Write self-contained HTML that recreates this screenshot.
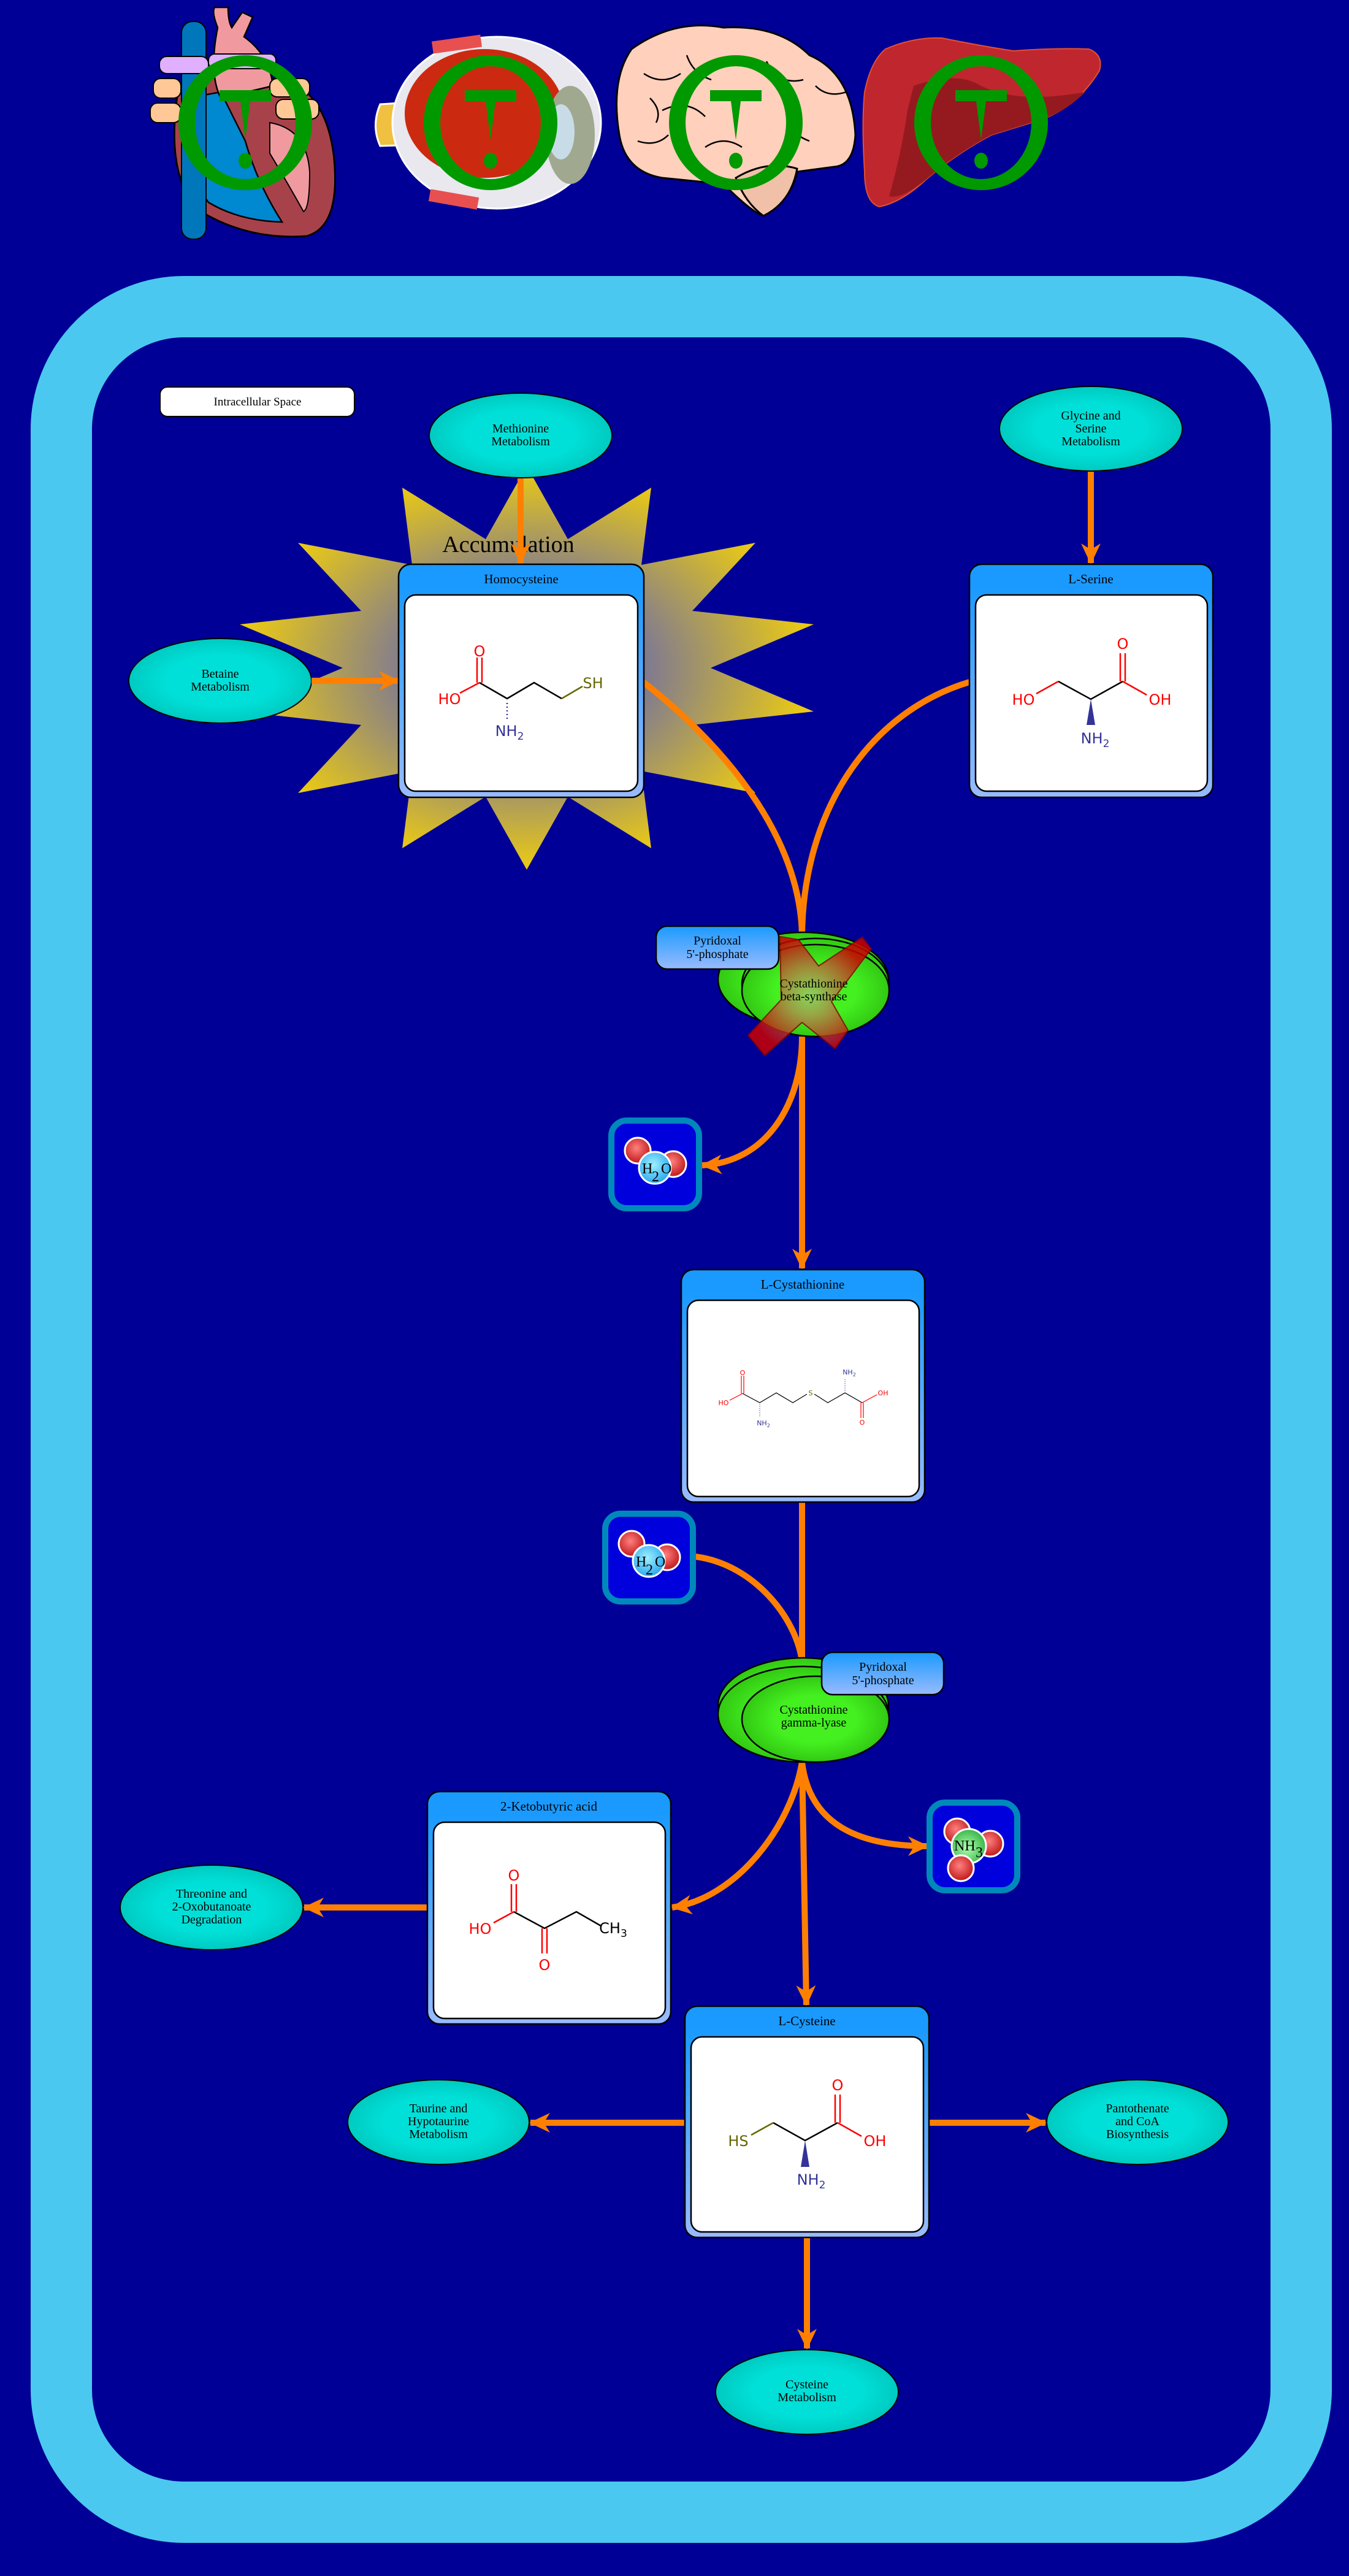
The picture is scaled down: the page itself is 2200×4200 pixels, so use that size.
<!DOCTYPE html>
<html><head><meta charset="utf-8"><style>html,body{margin:0;padding:0;background:#000096;}svg{display:block}</style></head>
<body>
<svg width="2200" height="4200" viewBox="0 0 2200 4200" xmlns="http://www.w3.org/2000/svg" font-family="'Liberation Serif', serif">
<defs>
<radialGradient id="star" cx="0.5" cy="0.5" r="0.5">
<stop offset="0.3" stop-color="#6a6aaa"/><stop offset="1" stop-color="#eccb12"/></radialGradient>
<radialGradient id="cyan" cx="0.5" cy="0.5" r="0.6"><stop offset="0.5" stop-color="#00e0d8"/><stop offset="1" stop-color="#00bfb5"/></radialGradient>
<radialGradient id="green" cx="0.5" cy="0.5" r="0.55"><stop offset="0.5" stop-color="#44f020"/><stop offset="1" stop-color="#2ec010"/></radialGradient>
<linearGradient id="box" x1="0" y1="0" x2="0" y2="1"><stop offset="0.1" stop-color="#1a9aff"/><stop offset="1" stop-color="#99bbff"/></linearGradient>
<linearGradient id="pyr" x1="0" y1="0" x2="0" y2="1"><stop offset="0" stop-color="#1a9aff"/><stop offset="1" stop-color="#99bbff"/></linearGradient>
<radialGradient id="xg" cx="0.5" cy="0.5" r="0.5"><stop offset="0" stop-color="#b8c080" stop-opacity="0.7"/><stop offset="1" stop-color="#cc0000"/></radialGradient>
<radialGradient id="redb" cx="0.45" cy="0.4" r="0.6"><stop offset="0" stop-color="#ff8080"/><stop offset="1" stop-color="#c01818"/></radialGradient>
<radialGradient id="blub" cx="0.45" cy="0.4" r="0.6"><stop offset="0" stop-color="#a0f0ff"/><stop offset="1" stop-color="#2aa8ee"/></radialGradient>
<radialGradient id="grnb" cx="0.45" cy="0.55" r="0.6"><stop offset="0" stop-color="#b0ffb0"/><stop offset="1" stop-color="#30b040"/></radialGradient>
<marker id="ah" markerUnits="userSpaceOnUse" markerWidth="40" markerHeight="40" viewBox="0 0 40 40" refX="34" refY="20" orient="auto">
<path d="M2,4 L36,20 L2,36 L12,20 z" fill="#ff8000"/></marker>
<g id="ring">
<path d="M-109,0 A109,110 0 1 0 109,0 A109,110 0 1 0 -109,0 Z M-82,0 A82,92 0 1 1 82,0 A82,92 0 1 1 -82,0 Z" fill="#009900" fill-rule="evenodd"/>
<path d="M-42,-53 L42,-53 L42,-35 L8,-35 L0,28 L-8,-35 L-42,-35 Z" fill="#009900"/>
<ellipse cx="0" cy="62" rx="11" ry="13" fill="#009900"/>
</g>
<g id="h2o">
<circle cx="50" cy="58" r="21" fill="url(#redb)" stroke="#fff" stroke-width="3"/>
<circle cx="108" cy="80" r="21" fill="url(#redb)" stroke="#fff" stroke-width="3"/>
<circle cx="78" cy="86" r="26" fill="url(#blub)" stroke="#fff" stroke-width="3"/>
<text x="57" y="95" font-size="24">H</text><text x="73" y="108" font-size="24">2</text><text x="88" y="95" font-size="24">O</text>
</g>
</defs>

<rect width="2200" height="4200" fill="#000096"/>

<!-- organs -->
<g>
<!-- heart -->
<path d="M290,150 Q270,280 320,340 Q400,392 500,385 Q555,370 545,260 Q535,160 470,130 L330,120 Z" fill="#a8424a" stroke="#000" stroke-width="3"/>
<path d="M305,160 Q300,280 340,330 Q390,360 460,362 Q420,300 400,230 L360,150 Z" fill="#0088d0" stroke="#000" stroke-width="2.5"/>
<path d="M440,200 Q500,210 505,280 Q505,340 495,345 Q470,300 440,250 Z" fill="#f09aa0" stroke="#000" stroke-width="2"/>
<path d="M355,45 Q345,20 350,12 L372,12 Q372,35 378,45 L395,20 L412,28 L398,60 Q440,90 445,140 L360,160 Q340,120 355,45 Z" fill="#f09aa0" stroke="#000" stroke-width="2.5"/>
<rect x="296" y="35" width="40" height="355" rx="18" fill="#0077bb" stroke="#000" stroke-width="2"/>
<rect x="260" y="92" width="80" height="28" rx="12" fill="#e0b0ff" stroke="#000" stroke-width="2"/>
<rect x="340" y="88" width="110" height="24" rx="10" fill="#e0b0ff" stroke="#000" stroke-width="2"/>
<rect x="250" y="128" width="45" height="32" rx="12" fill="#ffc896" stroke="#000" stroke-width="2"/>
<rect x="245" y="168" width="50" height="32" rx="12" fill="#ffc896" stroke="#000" stroke-width="2"/>
<rect x="440" y="128" width="65" height="30" rx="12" fill="#ffc896" stroke="#000" stroke-width="2"/>
<rect x="450" y="162" width="70" height="32" rx="12" fill="#ffc896" stroke="#000" stroke-width="2"/>
<!-- eye -->
<path d="M620,170 L700,165 L705,235 L620,238 Q605,205 620,170 Z" fill="#f0c040" stroke="#fff" stroke-width="3"/>
<ellipse cx="810" cy="200" rx="170" ry="140" fill="#e8e8ee" stroke="#fff" stroke-width="3"/>
<ellipse cx="790" cy="185" rx="130" ry="105" fill="#cc2a10"/>
<ellipse cx="930" cy="220" rx="40" ry="80" fill="#a0a890"/>
<ellipse cx="915" cy="215" rx="22" ry="45" fill="#c8dce8"/>
<rect x="705" y="62" width="80" height="20" fill="#e85050" transform="rotate(-8 745 72)"/>
<rect x="700" y="315" width="80" height="20" fill="#e85050" transform="rotate(10 740 325)"/>
<!-- brain -->
<path d="M1030,80 Q1100,30 1180,45 Q1270,40 1320,90 Q1390,120 1395,220 Q1392,270 1360,272 L1300,280 Q1290,330 1240,350 Q1220,340 1180,300 L1080,290 Q1020,280 1010,220 Q995,130 1030,80 Z" fill="#ffd0bc" stroke="#000" stroke-width="3"/>
<path d="M1200,290 Q1250,260 1300,275 Q1290,330 1245,352 Q1215,330 1200,290 Z" fill="#f0c0a8" stroke="#000" stroke-width="3"/>
<path d="M1050,120 q30,20 60,0 M1080,180 q40,-20 70,10 M1250,100 q20,40 60,30 M1300,180 q-30,30 20,50 M1150,240 q30,-20 60,0 M1040,230 q30,10 50,-10 M1120,90 q10,30 40,40 M1330,140 q20,20 50,10 M1060,160 q20,20 10,40" stroke="#000" stroke-width="2.5" fill="none"/>
<!-- liver -->
<path d="M1444,80 Q1490,60 1536,62 Q1600,75 1653,83 Q1720,78 1776,80 Q1800,90 1793,115 Q1760,170 1704,193 Q1650,210 1617,220 Q1560,250 1510,293 Q1470,330 1434,337 Q1410,330 1410,280 Q1405,200 1410,150 Q1420,100 1444,80 Z" fill="#c0262e" stroke="#e05030" stroke-width="2"/>
<path d="M1490,140 Q1560,115 1600,140 Q1660,170 1770,150 Q1740,180 1704,193 Q1650,210 1617,220 Q1560,250 1510,293 Q1470,325 1450,320 Q1470,250 1480,180 Z" fill="#951a20"/>
</g>
<use href="#ring" x="400" y="200"/>
<use href="#ring" x="800" y="200"/>
<use href="#ring" x="1200" y="200"/>
<use href="#ring" x="1600" y="200"/>

<!-- cell -->
<rect x="100" y="500" width="2022" height="3596" rx="200" ry="200" fill="none" stroke="#4bc8ef" stroke-width="100"/>

<!-- intracellular label -->
<rect x="261" y="631" width="317" height="48" rx="12" fill="#fff" stroke="#000" stroke-width="2"/>
<text x="420" y="661" font-size="19" text-anchor="middle">Intracellular Space</text>

<!-- starburst -->
<polygon points="859,760 926,879 1062,795 1046,921 1232,885 1129,996 1327,1018 1159,1089 1327,1160 1129,1182 1232,1293 1046,1257 1062,1383 926,1299 859,1418 792,1299 656,1383 672,1257 486,1293 589,1182 391,1160 559,1089 391,1018 589,996 486,885 672,921 656,795 792,879" fill="url(#star)"/>
<text x="829" y="900" font-size="38" text-anchor="middle">Accumulation</text>

<!-- ellipses -->
<g stroke="#000" stroke-width="2" fill="url(#cyan)">
<ellipse cx="849" cy="710" rx="149" ry="69"/>
<ellipse cx="1779" cy="699" rx="149" ry="69"/>
<ellipse cx="359" cy="1110" rx="149" ry="69"/>
<ellipse cx="345" cy="3110" rx="149" ry="69"/>
<ellipse cx="715" cy="3460" rx="148" ry="69"/>
<ellipse cx="1855" cy="3460" rx="148" ry="69"/>
<ellipse cx="1316" cy="3900" rx="149" ry="69"/>
</g>
<g font-size="20" text-anchor="middle">
<text x="849" y="705">Methionine</text><text x="849" y="726">Metabolism</text>
<text x="1779" y="684">Glycine and</text><text x="1779" y="705">Serine</text><text x="1779" y="726">Metabolism</text>
<text x="359" y="1105">Betaine</text><text x="359" y="1126">Metabolism</text>
<text x="345" y="3094">Threonine and</text><text x="345" y="3115">2-Oxobutanoate</text><text x="345" y="3136">Degradation</text>
<text x="715" y="3444">Taurine and</text><text x="715" y="3465">Hypotaurine</text><text x="715" y="3486">Metabolism</text>
<text x="1855" y="3444">Pantothenate</text><text x="1855" y="3465">and CoA</text><text x="1855" y="3486">Biosynthesis</text>
<text x="1316" y="3894">Cysteine</text><text x="1316" y="3915">Metabolism</text>
</g>

<!-- connectors -->
<g stroke="#ff8000" stroke-width="10" fill="none">
<path d="M849,780 L849,918" marker-end="url(#ah)"/>
<path d="M1779,769 L1779,918" marker-end="url(#ah)"/>
<path d="M508,1110 L650,1110" marker-end="url(#ah)"/>
<path d="M1049,1112 C1200,1230 1308,1380 1308,1530"/>
<path d="M1581,1112 C1420,1160 1308,1320 1308,1530"/>
<path d="M1308,1690 C1308,1800 1250,1895 1145,1900" marker-end="url(#ah)"/>
<path d="M1308,1690 L1308,2068" marker-end="url(#ah)"/>
<path d="M1308,2449 L1308,2710"/>
<path d="M1134,2538 C1230,2550 1300,2640 1308,2710"/>
<path d="M1308,2873 C1290,2980 1200,3095 1096,3110" marker-end="url(#ah)"/>
<path d="M1308,2873 C1320,2975 1400,3010 1513,3010" marker-end="url(#ah)"/>
<path d="M1308,2873 L1315,3269" marker-end="url(#ah)"/>
<path d="M697,3110 L496,3110" marker-end="url(#ah)"/>
<path d="M1117,3461 L865,3461" marker-end="url(#ah)"/>
<path d="M1515,3461 L1705,3461" marker-end="url(#ah)"/>
<path d="M1316,3648 L1316,3829" marker-end="url(#ah)"/>
</g>

<!-- molecule boxes -->
<g stroke="#000" stroke-width="2.5">
<rect x="650" y="920" width="400" height="380" rx="20" fill="url(#box)"/>
<rect x="660" y="970" width="380" height="320" rx="18" fill="#fff"/>
<rect x="1581" y="920" width="397" height="380" rx="20" fill="url(#box)"/>
<rect x="1591" y="970" width="378" height="320" rx="18" fill="#fff"/>
<rect x="1111" y="2070" width="397" height="379" rx="20" fill="url(#box)"/>
<rect x="1121" y="2120" width="378" height="320" rx="18" fill="#fff"/>
<rect x="697" y="2921" width="397" height="379" rx="20" fill="url(#box)"/>
<rect x="707" y="2971" width="378" height="320" rx="18" fill="#fff"/>
<rect x="1117" y="3271" width="398" height="377" rx="20" fill="url(#box)"/>
<rect x="1127" y="3321" width="379" height="318" rx="18" fill="#fff"/>
</g>
<g font-size="21" text-anchor="middle">
<text x="850" y="951">Homocysteine</text>
<text x="1779" y="951">L-Serine</text>
<text x="1309" y="2101">L-Cystathionine</text>
<text x="895" y="2952">2-Ketobutyric acid</text>
<text x="1316" y="3302">L-Cysteine</text>
</g>

<!-- Homocysteine molecule -->
<g font-family="'DejaVu Sans','Liberation Sans',sans-serif" font-size="24">
<g stroke-width="2.5" fill="none">
<path d="M782,1113 L827,1139 L871,1113 L916,1139" stroke="#000"/>
<path d="M916,1139 L950,1119" stroke="#666600"/>
<path d="M750,1130 L782,1113" stroke="#f00"/>
<path d="M778,1113 L778,1072 M786,1113 L786,1072" stroke="#f00"/>
<path d="M827,1146 L827,1176" stroke="#339" stroke-dasharray="2,4"/>
</g>
<text x="733" y="1148" fill="#f00" text-anchor="middle">HO</text>
<text x="782" y="1070" fill="#f00" text-anchor="middle">O</text>
<text x="967" y="1122" fill="#666600" text-anchor="middle">SH</text>
<text x="831" y="1200" fill="#339" text-anchor="middle">NH<tspan font-size="17" dy="6">2</tspan></text>
</g>

<!-- Serine -->
<g font-family="'DejaVu Sans','Liberation Sans',sans-serif" font-size="24">
<g stroke-width="2.5" fill="none">
<path d="M1726,1111 L1779,1140 L1831,1111" stroke="#000"/>
<path d="M1690,1131 L1726,1111" stroke="#f00"/>
<path d="M1831,1111 L1870,1133" stroke="#f00"/>
<path d="M1827,1111 L1827,1065 M1835,1111 L1835,1065" stroke="#f00"/>
</g>
<polygon points="1779,1140 1772,1182 1786,1182" fill="#339"/>
<text x="1669" y="1149" fill="#f00" text-anchor="middle">HO</text>
<text x="1831" y="1058" fill="#f00" text-anchor="middle">O</text>
<text x="1892" y="1149" fill="#f00" text-anchor="middle">OH</text>
<text x="1786" y="1212" fill="#339" text-anchor="middle">NH<tspan font-size="17" dy="6">2</tspan></text>
</g>

<!-- Cystathionine -->
<g font-family="'DejaVu Sans','Liberation Sans',sans-serif" font-size="11">
<g stroke-width="1.2" fill="none">
<path d="M1211,2272 L1239,2287 L1266,2271 L1293,2287 L1316,2273" stroke="#000"/>
<path d="M1328,2273 L1350,2287 L1378,2271 L1406,2287" stroke="#000"/>
<path d="M1190,2283 L1211,2272" stroke="#f00"/>
<path d="M1209,2272 L1209,2243 M1213,2272 L1213,2243" stroke="#f00"/>
<path d="M1406,2287 L1430,2274" stroke="#f00"/>
<path d="M1404,2287 L1404,2312 M1408,2287 L1408,2312" stroke="#f00"/>
<path d="M1239,2290 L1239,2310 M1378,2268 L1378,2248" stroke="#339" stroke-dasharray="1,2"/>
</g>
<text x="1180" y="2291" fill="#f00" text-anchor="middle">HO</text>
<text x="1211" y="2242" fill="#f00" text-anchor="middle">O</text>
<text x="1322" y="2275" fill="#666600" text-anchor="middle">S</text>
<text x="1385" y="2241" fill="#339" text-anchor="middle">NH<tspan font-size="8" dy="3">2</tspan></text>
<text x="1440" y="2275" fill="#f00" text-anchor="middle">OH</text>
<text x="1406" y="2323" fill="#f00" text-anchor="middle">O</text>
<text x="1245" y="2324" fill="#339" text-anchor="middle">NH<tspan font-size="8" dy="3">2</tspan></text>
</g>

<!-- Ketobutyric -->
<g font-family="'DejaVu Sans','Liberation Sans',sans-serif" font-size="24">
<g stroke-width="2.5" fill="none">
<path d="M838,3117 L888,3144 L940,3117 L980,3140" stroke="#000"/>
<path d="M805,3135 L838,3117" stroke="#f00"/>
<path d="M834,3117 L834,3072 M842,3117 L842,3072" stroke="#f00"/>
<path d="M884,3144 L884,3185 M892,3144 L892,3185" stroke="#f00"/>
</g>
<text x="783" y="3153" fill="#f00" text-anchor="middle">HO</text>
<text x="838" y="3066" fill="#f00" text-anchor="middle">O</text>
<text x="888" y="3212" fill="#f00" text-anchor="middle">O</text>
<text x="1000" y="3152" fill="#000" text-anchor="middle">CH<tspan font-size="17" dy="6">3</tspan></text>
</g>

<!-- Cysteine -->
<g font-family="'DejaVu Sans','Liberation Sans',sans-serif" font-size="24">
<g stroke-width="2.5" fill="none">
<path d="M1261,3461 L1313,3490 L1366,3461" stroke="#000"/>
<path d="M1225,3481 L1261,3461" stroke="#666600"/>
<path d="M1366,3461 L1405,3483" stroke="#f00"/>
<path d="M1362,3461 L1362,3415 M1370,3461 L1370,3415" stroke="#f00"/>
</g>
<polygon points="1313,3490 1306,3533 1320,3533" fill="#339"/>
<text x="1204" y="3499" fill="#666600" text-anchor="middle">HS</text>
<text x="1366" y="3408" fill="#f00" text-anchor="middle">O</text>
<text x="1427" y="3499" fill="#f00" text-anchor="middle">OH</text>
<text x="1323" y="3562" fill="#339" text-anchor="middle">NH<tspan font-size="17" dy="6">2</tspan></text>
</g>

<!-- CBS enzyme -->
<g stroke="#000" stroke-width="2.5" fill="url(#green)">
<ellipse cx="1310" cy="1597" rx="139" ry="77"/>
<ellipse cx="1330" cy="1605" rx="120" ry="75"/>
<ellipse cx="1330" cy="1615" rx="120" ry="75"/>
</g>
<rect x="1070" y="1510" width="200" height="70" rx="18" fill="url(#pyr)" stroke="#000" stroke-width="2.5"/>
<g font-size="20" text-anchor="middle"><text x="1170" y="1540">Pyridoxal</text><text x="1170" y="1562">5'-phosphate</text></g>
<polygon points="1272,1527 1302,1532 1335,1575 1406,1528 1421,1547 1356,1633 1383,1680 1362,1710 1308,1667 1247,1721 1220,1688 1274,1630" fill="url(#xg)" stroke="#800" stroke-width="2" stroke-linejoin="round" opacity="0.85"/>
<g font-size="20" text-anchor="middle">
<text x="1327" y="1610">Cystathionine</text><text x="1327" y="1631">beta-synthase</text>
</g>

<!-- H2O boxes -->
<rect x="997" y="1827" width="143" height="143" rx="25" fill="#0000dd" stroke="#0088bb" stroke-width="10"/>
<use href="#h2o" x="990" y="1818"/>
<rect x="987" y="2468" width="143" height="143" rx="25" fill="#0000dd" stroke="#0088bb" stroke-width="10"/>
<use href="#h2o" x="980" y="2459"/>

<!-- CGL enzyme -->
<g stroke="#000" stroke-width="2.5" fill="url(#green)">
<ellipse cx="1310" cy="2781" rx="139" ry="78"/>
<ellipse cx="1310" cy="2795" rx="139" ry="78"/>
<ellipse cx="1330" cy="2803" rx="120" ry="70"/>
</g>
<g font-size="20" text-anchor="middle">
<text x="1327" y="2794">Cystathionine</text><text x="1327" y="2815">gamma-lyase</text>
</g>
<rect x="1340" y="2694" width="199" height="69" rx="18" fill="url(#pyr)" stroke="#000" stroke-width="2.5"/>
<g font-size="20" text-anchor="middle"><text x="1440" y="2724">Pyridoxal</text><text x="1440" y="2746">5'-phosphate</text></g>

<!-- NH3 box -->
<rect x="1516" y="2939" width="143" height="143" rx="25" fill="#0000dd" stroke="#0088bb" stroke-width="10"/>
<circle cx="1561" cy="2986" r="21" fill="url(#redb)" stroke="#fff" stroke-width="3"/>
<circle cx="1615" cy="3006" r="21" fill="url(#redb)" stroke="#fff" stroke-width="3"/>
<circle cx="1580" cy="3010" r="28" fill="url(#grnb)" stroke="#fff" stroke-width="3"/>
<circle cx="1567" cy="3046" r="21" fill="url(#redb)" stroke="#fff" stroke-width="3"/>
<text x="1556" y="3017" font-size="24">NH</text><text x="1591" y="3028" font-size="24">3</text>
</svg>
</body></html>
